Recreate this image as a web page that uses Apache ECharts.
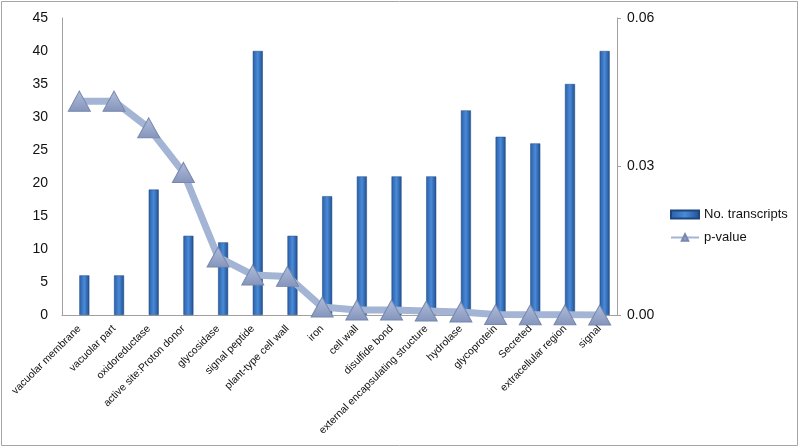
<!DOCTYPE html>
<html><head><meta charset="utf-8">
<script src="https://cdn.jsdelivr.net/npm/echarts@6/dist/echarts.min.js"></script>
<style>html,body{margin:0;padding:0;background:#fff}#c{width:800px;height:448px}</style>
</head><body><div id="c"></div>
<script>
var categories = ['vacuolar membrane','vacuolar part','oxidoreductase','active site:Proton donor','glycosidase','signal peptide','plant-type cell wall','iron','cell wall','disulfide bond','external encapsulating structure','hydrolase','glycoprotein','Secreted','extracellular region','signal'];
var transcripts = [6,6,19,12,11,40,12,18,21,21,21,31,27,26,35,40];
var pValues = [0.0432,0.0432,0.0378,0.0288,0.0117,0.0081,0.0078,0.0016,0.0010,0.0010,0.0008,0.0006,0.0001,0.00005,0.00003,0.00001];
var leftTicks = {min:0,max:45,interval:5};
var rightTicks = {min:0,max:0.06,interval:0.03};

var chart = echarts.init(document.getElementById('c'));
var barColor = new echarts.graphic.LinearGradient(0,0,1,0,[{offset:0,color:'#2a5ea6'},{offset:0.5,color:'#4a8ad8'},{offset:1,color:'#1f4f90'}]);
var font = 'Liberation Sans, Arial, sans-serif';
chart.setOption({
  animation:false,
  graphic:[{type:'rect',shape:{x:1.5,y:1.5,width:796,height:444},style:{fill:'none',stroke:'#a6a6a6',lineWidth:1}}],
  grid:{left:62,right:183,top:18,bottom:133,containLabel:false,outerBoundsMode:'none'},
  legend:{
    orient:'vertical', left:665, top:203, itemGap:10, itemWidth:28, itemHeight:8,
    textStyle:{fontFamily:font,fontSize:13,color:'#111'},
    data:[{name:'No. transcripts',icon:'rect'},{name:'p-value'}]
  },
  xAxis:{
    type:'category', data:categories,
    axisLine:{lineStyle:{color:'#a0a0a0'}}, axisTick:{show:false},
    axisLabel:{rotate:45,interval:0,fontFamily:font,fontSize:10.5,color:'#111',margin:12}
  },
  yAxis:[{
    type:'value', min:leftTicks.min, max:leftTicks.max, interval:leftTicks.interval,
    axisLine:{show:true,lineStyle:{color:'#a0a0a0'}}, axisTick:{show:false}, splitLine:{show:false},
    axisLabel:{fontFamily:font,fontSize:14,color:'#111',margin:14}
  },{
    type:'value', min:rightTicks.min, max:rightTicks.max, interval:rightTicks.interval,
    axisLine:{show:true,lineStyle:{color:'#a0a0a0'}}, axisTick:{show:true,length:4,lineStyle:{color:'#a0a0a0'}}, splitLine:{show:false},
    axisLabel:{fontFamily:font,fontSize:14,color:'#111',margin:10,formatter:function(v){return v.toFixed(2);}}
  }],
  series:[{
    name:'_spacer', type:'bar', data:[], barWidth:10, barGap:'0%'
  },{
    name:'No. transcripts', type:'bar', data:transcripts, barWidth:10, barGap:'0%',
    itemStyle:{color:barColor,borderColor:'#1c467f',borderWidth:0.5}
  },{
    name:'p-value', type:'line', yAxisIndex:1, data:pValues,
    symbol:'triangle', symbolSize:[22,20],
    lineStyle:{color:'#a3b4d4',width:7},
    itemStyle:{color:new echarts.graphic.LinearGradient(0,0,0,1,[{offset:0,color:'#b0bedb'},{offset:1,color:'#8494bb'}]),borderColor:'#7787ad',borderWidth:1}
  }]
});
</script></body></html>
